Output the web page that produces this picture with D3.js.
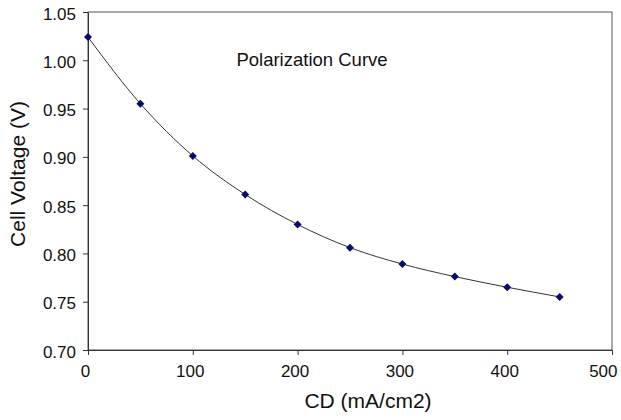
<!DOCTYPE html>
<html>
<head>
<meta charset="utf-8">
<script src="https://cdn.jsdelivr.net/npm/d3@7"></script>
<style>
  body { margin: 0; background: #fff; }
  svg { font-family: "Liberation Sans", Arial, sans-serif; }
  .axis path, .axis line { stroke: #333; }
  .axis text { font-size: 17px; fill: #111; font-family: "Liberation Sans", Arial, sans-serif; }
</style>
</head>
<body>
<div id="chart"></div>
<script>
// current density (mA/cm2) and cell voltage (V)
var cd = [0, 50, 100, 150, 200, 250, 300, 350, 400, 450];
var voltage = [1.024, 0.955, 0.901, 0.861, 0.830, 0.806, 0.789, 0.776, 0.765, 0.755];
var xTicks = [0, 100, 200, 300, 400, 500];
var yTicks = [0.70, 0.75, 0.80, 0.85, 0.90, 0.95, 1.00, 1.05];

var data = cd.map(function (d, i) { return { x: d, y: voltage[i] }; });

var W = 621, H = 420;
var margin = {top: 12, right: 9, bottom: 70, left: 88},
    width = W - margin.left - margin.right,
    height = H - margin.top - margin.bottom;

var svg = d3.select("#chart").append("svg")
    .attr("width", W)
    .attr("height", H);

var x = d3.scaleLinear().domain([0, 500]).range([0, width]);
var y = d3.scaleLinear().domain([0.70, 1.05]).range([height, 0]);

var g = svg.append("g")
    .attr("transform", "translate(" + margin.left + "," + margin.top + ")");

// frame
g.append("rect")
    .attr("width", width).attr("height", height)
    .attr("fill", "none").attr("stroke", "#555").attr("stroke-width", 1);

var xAxis = g.append("g")
    .attr("class", "axis")
    .attr("transform", "translate(0," + height + ")")
    .call(d3.axisBottom(x).tickValues(xTicks).tickSize(5).tickPadding(10).tickSizeOuter(0));

// labels sit a little left of their ticks, the last one kept inside the page
xAxis.selectAll(".tick text")
    .attr("dx", -3)
    .filter(function (d) { return d === 500; })
    .attr("text-anchor", "end")
    .attr("dx", 5);

g.append("g")
    .attr("class", "axis")
    .call(d3.axisLeft(y).tickValues(yTicks).tickFormat(d3.format(".2f")).tickSize(5).tickPadding(7).tickSizeOuter(0))
    .selectAll(".tick text").attr("dy", "0.42em");

var line = d3.line()
    .x(function (d) { return x(d.x); })
    .y(function (d) { return y(d.y); })
    .curve(d3.curveMonotoneX);

g.append("path")
    .datum(data)
    .attr("fill", "none")
    .attr("stroke", "#333")
    .attr("stroke-width", 1)
    .attr("d", line);

g.selectAll(".pt")
    .data(data)
    .enter().append("path")
    .attr("class", "pt")
    .attr("transform", function (d) { return "translate(" + x(d.x) + "," + y(d.y) + ")"; })
    .attr("d", "M0,-4L4,0L0,4L-4,0Z")
    .attr("fill", "#0a0a6e");

// title inside plot
svg.append("text")
    .attr("x", 312).attr("y", 66)
    .attr("text-anchor", "middle")
    .attr("font-size", 18.5).attr("fill", "#111")
    .text("Polarization Curve");

svg.append("text")
    .attr("x", 368).attr("y", 408)
    .attr("text-anchor", "middle")
    .attr("font-size", 21).attr("fill", "#111")
    .text("CD (mA/cm2)");

svg.append("text")
    .attr("transform", "translate(25,174) rotate(-90)")
    .attr("text-anchor", "middle")
    .attr("font-size", 21).attr("fill", "#111")
    .text("Cell Voltage (V)");
</script>
</body>
</html>
